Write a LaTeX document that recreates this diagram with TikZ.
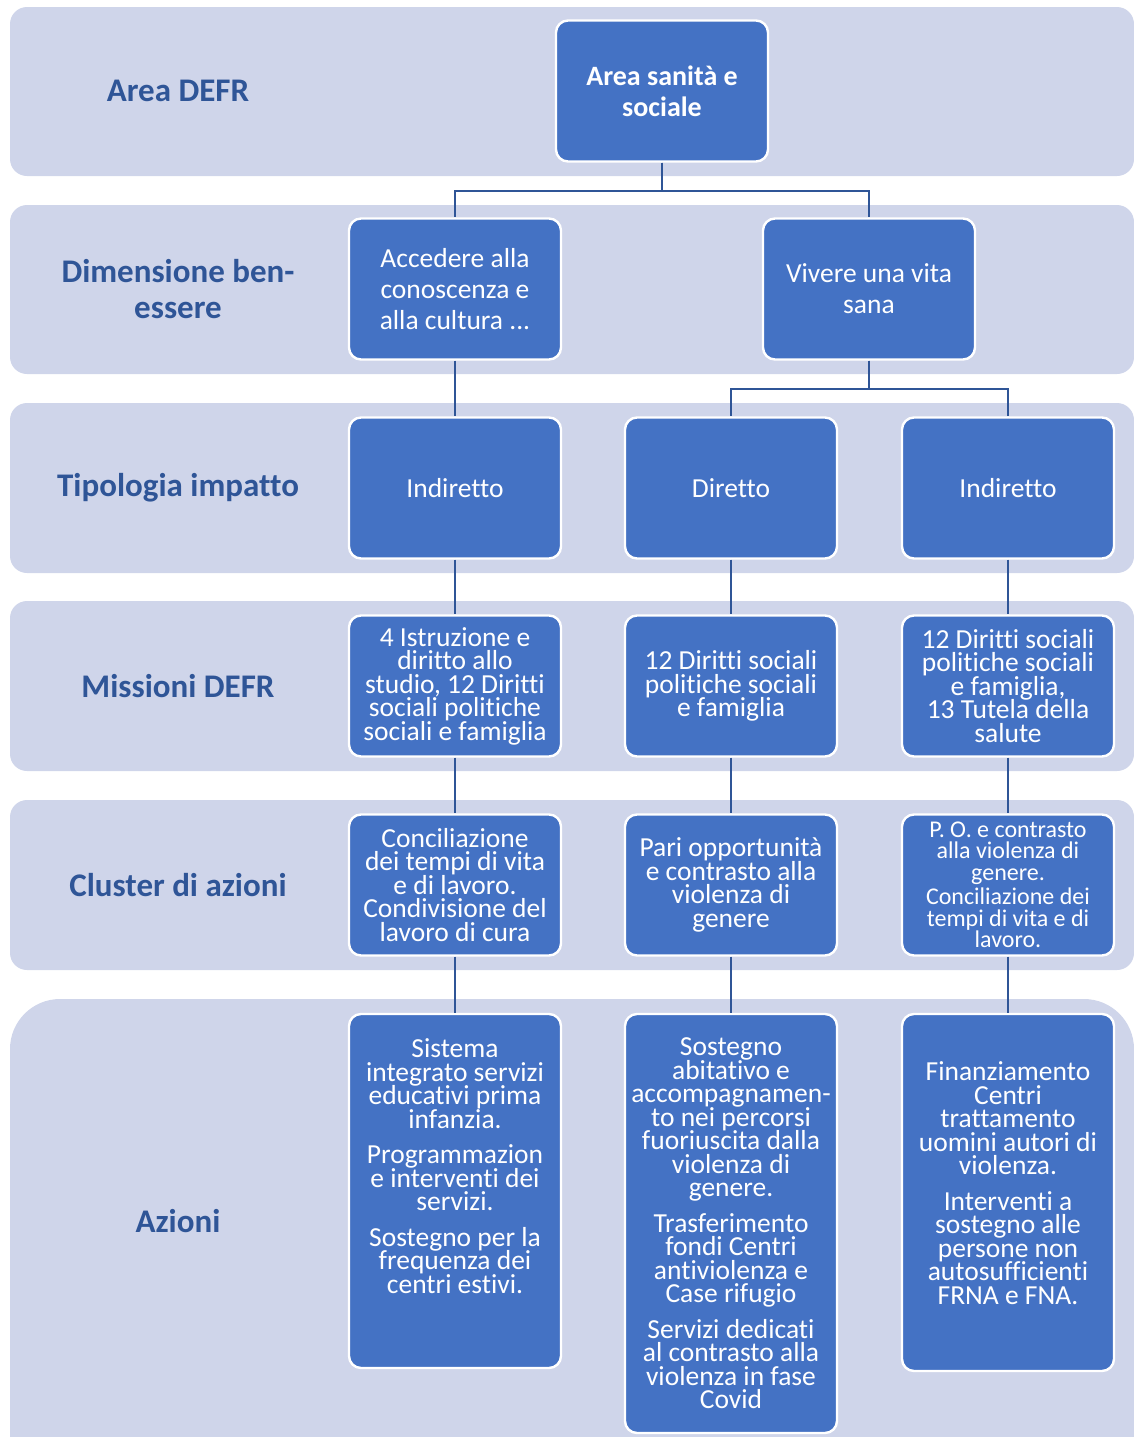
\documentclass[tikz,border=0pt]{standalone}
\usepackage{fontspec}
\setmainfont{Carlito}[Ligatures={NoCommon}]
\definecolor{bandblue}{HTML}{CFD5EA}
\definecolor{boxblue}{HTML}{4472C4}
\definecolor{darkblue}{HTML}{2F5597}

\begin{document}
\begin{tikzpicture}[x=0.5pt, y=-0.5pt,
    band/.style={fill=bandblue, rounded corners=8.5pt},
    box/.style={draw=white, line width=1.2pt, fill=boxblue, rounded corners=6pt, text=white, minimum width=106pt, minimum height=70.5pt, align=center, inner sep=2pt, font=\fontsize{13.75}{15.5}\selectfont},
    tight/.style={font=\fontsize{13.75}{11.75}\selectfont\lineskiplimit-20pt\relax},
    small/.style={font=\fontsize{12}{10.75}\selectfont\lineskiplimit-20pt\relax},
    rowlabel/.style={text=darkblue, align=center, font=\bfseries\fontsize{16.5}{18}\selectfont},
    conn/.style={draw=darkblue, line width=1.2pt}
]
\clip (0,0) rectangle (1134,1437);
\fill[band] (10,7) rectangle (1134,176);
\fill[band] (10,205) rectangle (1134,374);
\fill[band] (10,403) rectangle (1134,573);
\fill[band] (10,601) rectangle (1134,771);
\fill[band] (10,800) rectangle (1134,970);
\fill[band, rounded corners=25pt] (10,999) rectangle (1134,1500);

\node[rowlabel] (lblarea) at (178,91) {Area DEFR};
\node[rowlabel] (lbldim) at (178,289) {Dimensione ben-\\essere};
\node[rowlabel] (lbltip) at (178,488) {Tipologia impatto};
\node[rowlabel] (lblmis) at (178,686) {Missioni DEFR};
\node[rowlabel] (lblclu) at (178,885) {Cluster di azioni};
\node[rowlabel] (lblaz) at (178,1221) {Azioni};

\node[box, font=\bfseries\fontsize{14}{15.5}\selectfont] (area) at (662,91) {Area sanità e\\sociale};
\node[box] (accedere) at (455,289) {Accedere alla\\conoscenza e\\alla cultura ...};
\node[box] (vita) at (869,289) {Vivere una vita\\sana};
\node[box] (ind1) at (455,488) {Indiretto};
\node[box] (dir) at (731,488) {Diretto};
\node[box] (ind2) at (1008,488) {Indiretto};
\node[box, tight] (mis1) at (455,686) {4 Istruzione e\\diritto allo\\studio, 12 Diritti\\sociali politiche\\sociali e famiglia};
\node[box, tight] (mis2) at (731,686) {12 Diritti sociali\\politiche sociali\\e famiglia};
\node[box, tight] (mis3) at (1008,686) {12 Diritti sociali\\politiche sociali\\e famiglia,\\13 Tutela della\\salute};
\node[box, tight] (clu1) at (455,885) {Conciliazione\\dei tempi di vita\\e di lavoro.\\Condivisione del\\lavoro di cura};
\node[box, tight] (clu2) at (731,885) {Pari opportunità\\e contrasto alla\\violenza di\\genere};
\node[box, small] (clu3) at (1008,885) {P. O. e contrasto\\alla violenza di\\genere.\\[1.5pt]Conciliazione dei\\tempi di vita e di\\lavoro.};
\node[box, tight, minimum height=177pt] (az1) at (455,1191) {Sistema\\integrato servizi\\educativi prima\\infanzia.\\[6pt]Programmazion\\e interventi dei\\servizi.\\[6pt]Sostegno per la\\frequenza dei\\centri estivi.\\[13pt]~};
\node[box, tight, minimum height=209.5pt] (az2) at (731,1223.5) {Sostegno\\abitativo e\\accompagnamen-\\to nei percorsi\\fuoriuscita dalla\\violenza di\\genere.\\[6pt]Trasferimento\\fondi Centri\\antiviolenza e\\Case rifugio\\[6pt]Servizi dedicati\\al contrasto alla\\violenza in fase\\Covid};
\node[box, tight, minimum height=178.5pt] (az3) at (1008,1192.5) {Finanziamento\\Centri\\trattamento\\uomini autori di\\violenza.\\[6pt]Interventi a\\sostegno alle\\persone non\\autosufficienti\\FRNA e FNA.\\[-2.25pt]~};

\draw[conn] (area.south) -- ++(0,28) -| (accedere.north);
\draw[conn] (area.south) -- ++(0,28) -| (vita.north);
\draw[conn] (vita.south) -- ++(0,28) -| (dir.north);
\draw[conn] (vita.south) -- ++(0,28) -| (ind2.north);
\foreach \a/\b in {accedere/ind1, ind1/mis1, mis1/clu1, clu1/az1, dir/mis2, mis2/clu2, clu2/az2, ind2/mis3, mis3/clu3, clu3/az3}
  \draw[conn] (\a) -- (\b);
\end{tikzpicture}
\end{document}
